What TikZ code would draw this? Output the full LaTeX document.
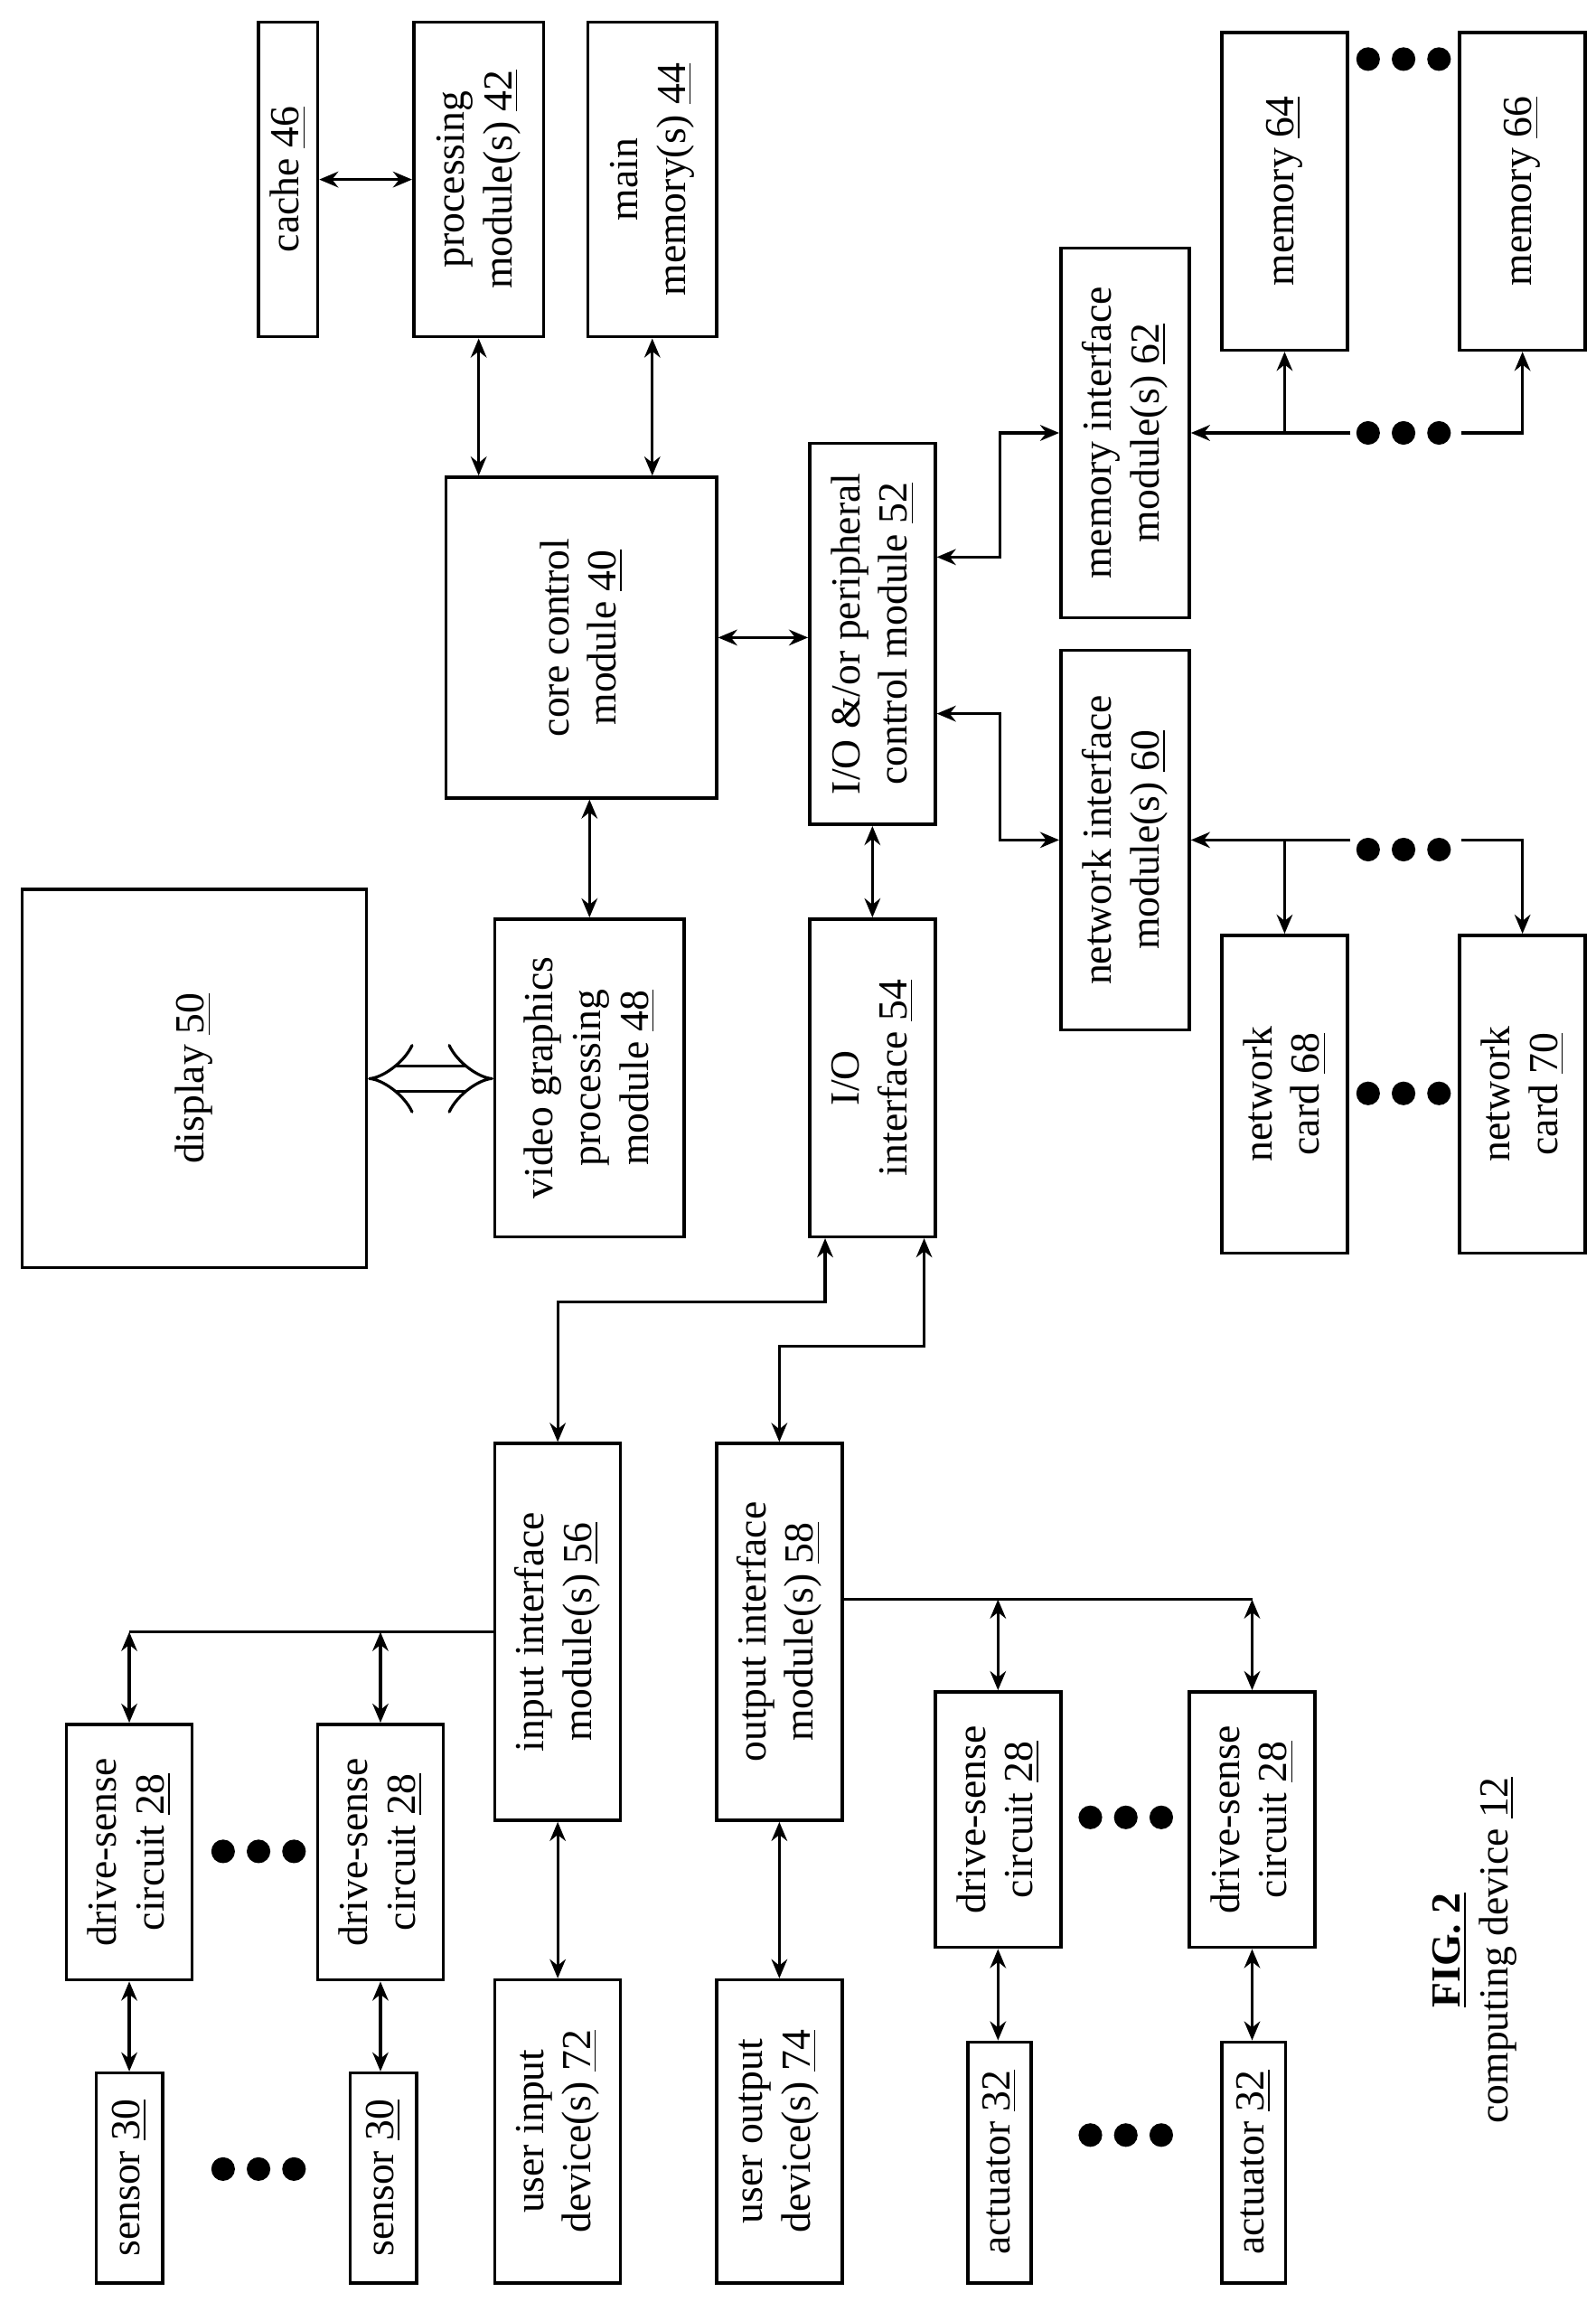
\documentclass[tikz,border=0pt]{standalone}
\usepackage{fontspec}
\setmainfont{Liberation Serif}
\usetikzlibrary{arrows.meta,positioning,calc}

\tikzset{
  blk/.style={draw, line width=1pt, rotate=90, align=center, inner sep=0pt,
    font=\fontsize{13}{15}\selectfont},
  link/.style={line width=0.9pt, {Stealth[length=6pt,width=5pt]}-{Stealth[length=6pt,width=5pt]}},
  tolink/.style={line width=0.9pt, -{Stealth[length=6pt,width=5pt]}},
  bus/.style={line width=0.9pt}
}

% box from image corners (x1,y1) to (x2,y2)
\newcommand\blk[6]{\node[blk, minimum width={(#5-#3)*0.01634cm}, minimum height={(#4-#2)*0.01634cm}] (#1) at ({(#2+#4)/2},{(#3+#5)/2}) {#6};}
\newcommand\bullets[2]{\foreach \d in {-24,0,24} \fill ({#1+\d},#2) circle (8);}

\begin{document}
\begin{tikzpicture}[x=0.01634cm, y=-0.01634cm]
  \useasboundingbox (0,0) rectangle (1080,1558);

  % core blocks
  \blk{cache}{175}{15}{215}{228}{cache \underline{46}}
  \blk{proc}{280}{15}{368}{228}{processing\\module(s) \underline{42}}
  \blk{mainmem}{398}{15}{485}{228}{main\\memory(s) \underline{44}}
  \blk{core}{302}{323}{485}{540}{core control\\module \underline{40}}
  \blk{disp}{15}{602}{248}{858}{display \underline{50}}
  \blk{video}{335}{622}{463}{837}{video graphics\\processing\\module \underline{48}}
  \blk{iop}{548}{300}{633}{558}{I/O \&/or peripheral\\control module \underline{52}}
  \blk{ioi}{548}{622}{633}{837}{I/O\\interface \underline{54}}

  % memory and network side
  \blk{memif}{718}{168}{805}{418}{memory interface\\module(s) \underline{62}}
  \blk{netif}{718}{440}{805}{697}{network interface\\module(s) \underline{60}}
  \blk{memA}{827}{22}{912}{237}{memory \underline{64}}
  \blk{memB}{988}{22}{1073}{237}{memory \underline{66}}
  \blk{cardA}{827}{633}{912}{848}{network\\card \underline{68}}
  \blk{cardB}{988}{633}{1073}{848}{network\\card \underline{70}}

  % input / output side
  \blk{inif}{335}{977}{420}{1232}{input interface\\module(s) \underline{56}}
  \blk{outif}{485}{977}{570}{1232}{output interface\\module(s) \underline{58}}
  \blk{dsA}{45}{1167}{130}{1340}{drive-sense\\circuit \underline{28}}
  \blk{dsB}{215}{1167}{300}{1340}{drive-sense\\circuit \underline{28}}
  \blk{senA}{65}{1403}{110}{1545}{sensor \underline{30}}
  \blk{senB}{237}{1403}{282}{1545}{sensor \underline{30}}
  \blk{uin}{335}{1340}{420}{1545}{user input\\device(s) \underline{72}}
  \blk{uout}{485}{1340}{570}{1545}{user output\\device(s) \underline{74}}
  \blk{dsC}{633}{1145}{718}{1318}{drive-sense\\circuit \underline{28}}
  \blk{dsD}{805}{1145}{890}{1318}{drive-sense\\circuit \underline{28}}
  \blk{actA}{655}{1382}{698}{1545}{actuator \underline{32}}
  \blk{actB}{827}{1382}{870}{1545}{actuator \underline{32}}

  \node[rotate=90, align=center, font=\fontsize{13}{15}\selectfont] (fig) at (998,1320)
    {\textbf{\underline{FIG. 2}}\\computing device \underline{12}};

  % links around the core
  \draw[link] (cache.south) -- (proc.north);
  \draw[link] (proc.west) -- (proc.west |- core.east);
  \draw[link] (mainmem.west) -- (mainmem.west |- core.east);
  \draw[link] (core.south) -- (core.south -| iop.north);
  \draw[link] (video.east) -- (video.east |- core.west);
  \draw[line width=0.9pt, double, double distance=7pt, {Implies[length=9pt]}-{Implies[length=9pt]}]
    (disp.south) -- (disp.south -| video.north);
  \draw[link] (iop.west) -- (iop.west |- ioi.east);
  \draw[link] ($(iop.south)+(0,-52)$) -| ($(memif.north)+(-40,0)$) -- (memif.north);
  \draw[link] ($(iop.south)+(0,54)$) -| ($(netif.north)+(-40,0)$) -- (netif.north);

  % memory bus
  \draw[tolink] ($(memif.south)+(108,0)$) -- (memif.south);
  \draw[tolink] (memA.west |- memif.south) -- (memA.west);
  \draw[tolink] ($(memif.south)+(183,0)$) -| (memB.west);
  \bullets{950}{293}
  \bullets{950}{40}

  % network bus
  \draw[tolink] ($(netif.south)+(108,0)$) -- (netif.south);
  \draw[tolink] (cardA.east |- netif.south) -- (cardA.east);
  \draw[tolink] ($(netif.south)+(183,0)$) -| (cardB.east);
  \bullets{950}{575}
  \bullets{950}{740}

  % I/O interface to input / output modules
  \draw[link] ($(ioi.west)+(-32,0)$) -- ++(0,43) -| (inif.east);
  \draw[link] ($(ioi.west)+(35,0)$) -- ++(0,73) -| (outif.east);

  % input side
  \draw[bus] (inif.north) -- (dsA.east |- inif.north);
  \draw[link] (dsA.east |- inif.north) -- (dsA.east);
  \draw[link] (dsB.east |- inif.north) -- (dsB.east);
  \draw[link] (dsA.west) -- (dsA.west |- senA.east);
  \draw[link] (dsB.west) -- (dsB.west |- senB.east);
  \draw[link] (inif.west) -- (inif.west |- uin.east);
  \bullets{175}{1253}
  \bullets{175}{1468}

  % output side
  \coordinate (obus) at ($(outif.south)+(0,-22)$);
  \draw[bus] (obus) -- (dsD.east |- obus);
  \draw[link] (dsC.east |- obus) -- (dsC.east);
  \draw[link] (dsD.east |- obus) -- (dsD.east);
  \draw[link] (outif.west) -- (outif.west |- uout.east);
  \draw[link] (dsC.west) -- (dsC.west |- actA.east);
  \draw[link] (dsD.west) -- (dsD.west |- actB.east);
  \bullets{762}{1230}
  \bullets{762}{1445}
\end{tikzpicture}
\end{document}
